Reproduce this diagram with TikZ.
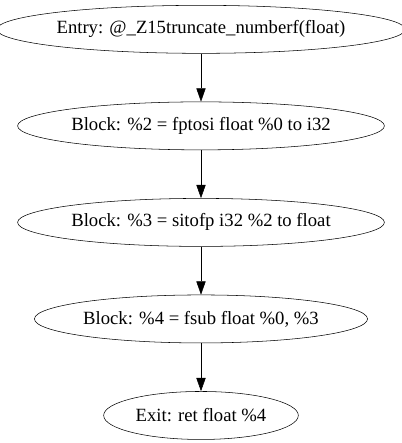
\documentclass[tikz,border=0pt]{standalone}
\usepackage{fontspec}
\setmainfont{Liberation Serif}
\usetikzlibrary{positioning,shapes.geometric,arrows.meta}
\tikzset{
	-{Triangle[length=10pt,width=7pt]}, node distance = 36pt, line width=1pt,
	block/.style = {ellipse, draw, inner sep=0pt, minimum height=36pt, font=\fontsize{14}{16}\selectfont}, % one ellipse per basic block
	flow/.style = {draw}
}
\begin{document}
\begin{tikzpicture}
            \useasboundingbox (-150.75pt,22pt) rectangle (150.75pt,-310.25pt);
            \node[block, minimum width=291pt] (entry) at (0,0) {Entry: @\_Z15truncate\_numberf(float)};
            \node[block, minimum width=271.5pt] (b2) [below=of entry] {Block: \%2 = fptosi float \%0 to i32};
            \node[block, minimum width=271.5pt] (b3) [below=of b2] {Block: \%3 = sitofp i32 \%2 to float};
            \node[block, minimum width=249pt] (b4) [below=of b3] {Block: \%4 = fsub float \%0, \%3};
            \node[block, minimum width=146pt] (exit) [below=of b4] {Exit: ret float \%4};
            \draw[flow] (entry) -- (b2);
            \draw[flow] (b2) -- (b3);
            \draw[flow] (b3) -- (b4);
            \draw[flow] (b4) -- (exit);
        \end{tikzpicture}
\end{document}
